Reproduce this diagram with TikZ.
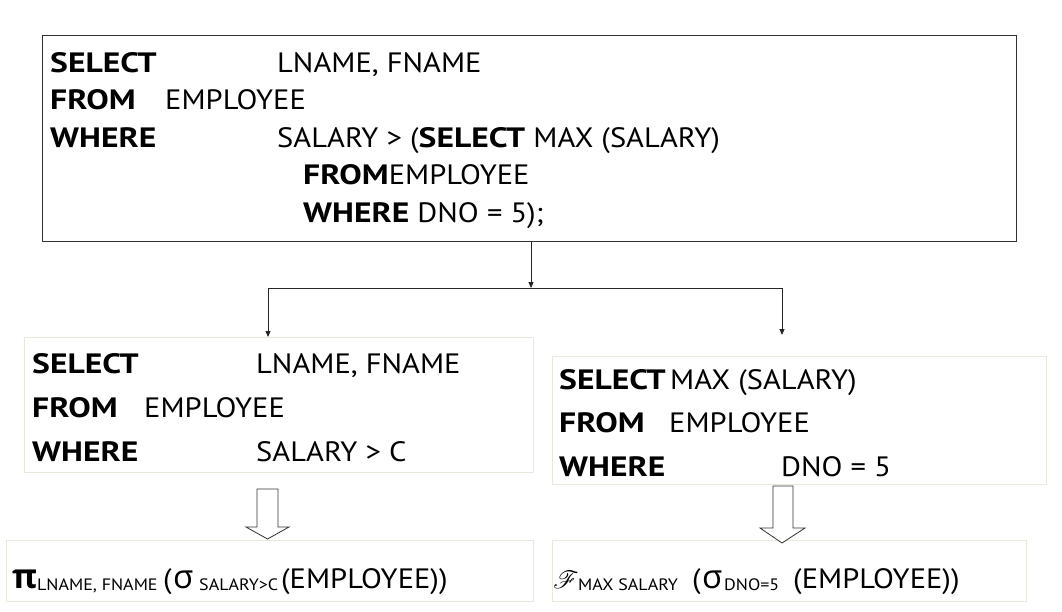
\documentclass[tikz,border=0pt]{standalone}
\usepackage{fontspec}
\usepackage{mathrsfs}
\setmainfont{PT Sans}[FakeStretch=1.09, BoldFeatures={FakeStretch=1.2}]
\newfontfamily\grk{Open Sans}
\usetikzlibrary{arrows.meta}
\definecolor{boxline}{RGB}{234,232,218}
\definecolor{topline}{RGB}{50,50,50}
\begin{document}
\begin{tikzpicture}[x=1pt,y=-1pt,
  txt/.style={anchor=base west, inner sep=0pt, font=\fontsize{28}{28}\selectfont},
  kw/.style={txt, font=\fontsize{28}{28}\selectfont\bfseries},
  frm/.style={anchor=base west, inner sep=0pt, font=\fontsize{28}{28}\selectfont},
  sub/.style={anchor=base west, inner sep=0pt, font=\fontsize{16.5}{16.5}\selectfont},
  topbox/.style={draw=topline, line width=1.3pt, anchor=north west, inner sep=0pt},
  lightbox/.style={draw=boxline, line width=1pt, anchor=north west, inner sep=0pt},
  conn/.style={draw=black!85, line width=0.9pt},
  tip/.style={conn, -{Triangle[length=6pt,width=5pt]}},
  hollow/.style={draw=black!80, fill=white, line width=0.8pt, line join=miter}
]
\useasboundingbox (0,0) rectangle (1062,611);

% boxes
\node[topbox, minimum width=974pt, minimum height=206pt] (q) at (42,35) {};
\node[lightbox, minimum width=509pt, minimum height=135pt] (L) at (24,337) {};
\node[lightbox, minimum width=494pt, minimum height=128pt] (R) at (552,356) {};
\node[lightbox, minimum width=527pt, minimum height=61pt] (BL) at (6,540) {};
\node[lightbox, minimum width=474pt, minimum height=61pt] (BR) at (552,540) {};

% top query
\node[kw] (q1k) at (50,72) {SELECT};
\node[txt] (q1v) at (277,72) {LNAME, FNAME};
\node[kw] (q2k) at (50,109.5) {FROM};
\node[txt] (q2v) at (165,109.5) {EMPLOYEE};
\node[kw] (q3k) at (50,147) {WHERE};
\node[txt] (q3v) at (277,147) {SALARY > (\textbf{SELECT} MAX (SALARY)};
\node[txt] (q4v) at (303,184.5) {\textbf{FROM}EMPLOYEE};
\node[txt] (q5v) at (303,222) {\textbf{WHERE} DNO = 5);};

% connectors
\coordinate (j) at (531,288);
\coordinate (jl) at (268,288);
\coordinate (jr) at (782,288);
\coordinate (er) at (782,335);
\draw[tip] (j |- q.south) -- (j);
\draw[conn] (jl) -- (jr);
\draw[tip] (jl) -- (jl |- L.north);
\draw[tip] (jr) -- (er);

% left sub-query
\node[kw] (l1k) at (32,373) {SELECT};
\node[txt] (l1v) at (256,373) {LNAME, FNAME};
\node[kw] (l2k) at (32,417) {FROM};
\node[txt] (l2v) at (144,417) {EMPLOYEE};
\node[kw] (l3k) at (32,461) {WHERE};
\node[txt] (l3v) at (256,461) {SALARY > C};

% right sub-query
\node[kw] (r1k) at (559,389) {SELECT};
\node[txt] (r1v) at (670,389) {MAX (SALARY)};
\node[kw] (r2k) at (559,432) {FROM};
\node[txt] (r2v) at (669,432) {EMPLOYEE};
\node[kw] (r3k) at (559,476) {WHERE};
\node[txt] (r3v) at (781,476) {DNO = 5};

% hollow block arrows
\draw[hollow] (257,489) -- (278,489) -- (278,527) -- (289,527) -- (267.5,539)
  -- (246,527) -- (257,527) -- cycle;
\draw[hollow] (773,486) -- (793,486) -- (793,528) -- (805,528) -- (782,543)
  -- (760,528) -- (773,528) -- cycle;

% left algebra expression
\node[frm, font=\fontsize{34}{34}\selectfont\grk\bfseries] (pi) at (12,588) {π};
\node[sub] (pis) at (37,590) {LNAME, FNAME};
\node[frm] (lpar) at (163,588) {(};
\node[frm, font=\fontsize{33}{33}\selectfont\grk] (lsg) at (173,588) {σ};
\node[sub] (sgs) at (199,590) {SALARY>C};
\node[frm] (le) at (281,588) {(EMPLOYEE))};

% right algebra expression
\node[frm, font=\fontsize{30}{30}\selectfont] (F) at (553,588) {$\mathscr{F}$};
\node[sub] (Fs) at (578,590) {MAX SALARY};
\node[frm] (rpar) at (692,588) {(};
\node[frm, font=\fontsize{33}{33}\selectfont\grk] (rsg) at (702,588) {σ};
\node[sub] (rss) at (724,590) {DNO=5};
\node[frm] (re) at (793,588) {(EMPLOYEE))};
\end{tikzpicture}
\end{document}
